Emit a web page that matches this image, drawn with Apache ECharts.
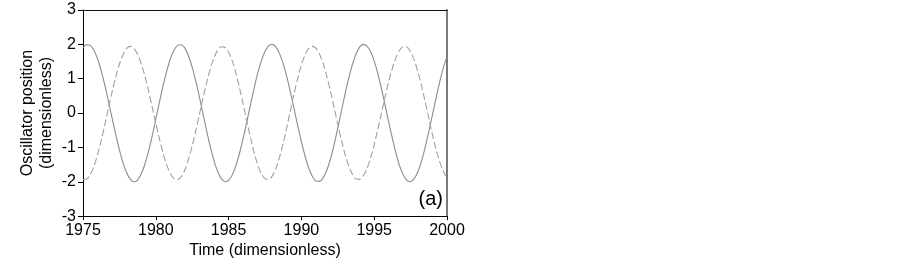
<!DOCTYPE html>
<html>
<head>
<meta charset="utf-8">
<script src="https://cdn.jsdelivr.net/npm/echarts@6/dist/echarts.min.js"></script>
<style>
html,body{margin:0;padding:0;background:#fff;}
#c{width:902px;height:264px;}
</style>
</head>
<body>
<div id="c"></div>
<script>
// Sampling grid of the time axis (dimensionless years)
const timeStart = 1975;
const timeStep = 0.25;
const xTicks = [1975, 1980, 1985, 1990, 1995, 2000];
const yTicks = [-3, -2, -1, 0, 1, 2, 3];

// Oscillator 1 (solid line)
const solidValues = [
  1.90, 1.99, 1.97, 1.83, 1.58, 1.23, 0.81, 0.34, -0.15, -0.63, -1.07, -1.45, -1.74, -1.93, -2.00, -1.95,
  -1.77, -1.49, -1.11, -0.67, -0.18, 0.32, 0.80, 1.22, 1.58, 1.83, 1.97, 1.99, 1.89, 1.66, 1.33, 0.92,
  0.46, -0.04, -0.53, -0.99, -1.39, -1.70, -1.91, -2.00, -1.96, -1.80, -1.53, -1.17, -0.74, -0.26, 0.24, 0.72,
  1.16, 1.52, 1.79, 1.96, 2.00, 1.92, 1.73, 1.43, 1.05, 0.60, 0.12, -0.37, -0.84, -1.25, -1.60, -1.84,
  -1.98, -1.99, -1.88, -1.66, -1.33, -0.91, -0.44, 0.06, 0.56, 1.02, 1.41, 1.72, 1.92, 2.00, 1.95, 1.79,
  1.51, 1.15, 0.71, 0.23, -0.27, -0.74, -1.18, -1.54, -1.80, -1.96, -2.00, -1.91, -1.71, -1.40, -1.00, -0.54,
  -0.05, 0.44, 0.91, 1.32, 1.65
];

// Oscillator 2 (dashed line)
const dashedValues = [
  -1.93, -1.92, -1.79, -1.55, -1.21, -0.80, -0.34, 0.15, 0.62, 1.05, 1.42, 1.70, 1.88, 1.94, 1.88, 1.71,
  1.43, 1.08, 0.65, 0.18, -0.30, -0.75, -1.17, -1.51, -1.76, -1.91, -1.94, -1.85, -1.65, -1.34, -0.95, -0.51,
  -0.03, 0.45, 0.90, 1.30, 1.61, 1.83, 1.93, 1.91, 1.77, 1.52, 1.16, 0.73, 0.26, -0.24, -0.71, -1.15,
  -1.50, -1.77, -1.91, -1.93, -1.83, -1.61, -1.28, -0.88, -0.41, 0.08, 0.57, 1.01, 1.40, 1.69, 1.88, 1.94,
  1.88, 1.71, 1.43, 1.06, 0.62, 0.15, -0.33, -0.79, -1.20, -1.54, -1.78, -1.92, -1.93, -1.83, -1.62, -1.31,
  -0.92, -0.47, 0.00, 0.47, 0.92, 1.31, 1.62, 1.83, 1.93, 1.92, 1.78, 1.54, 1.20, 0.79, 0.33, -0.15,
  -0.63, -1.06, -1.42, -1.70, -1.88
];

const xName = 'Time (dimensionless)';
const yName = 'Oscillator position\n(dimensionless)';
const panelLabel = '(a)';

function pairs(vals) {
  return vals.map((v, i) => [timeStart + i * timeStep, v]);
}

const FONT = '"Liberation Sans", Arial, sans-serif';
const chart = echarts.init(document.getElementById('c'), null, {renderer: 'canvas'});

chart.setOption({
  animation: false,
  backgroundColor: '#ffffff',
  grid: {left: 83, top: 10, right: 455, bottom: 44, containLabel: false},
  xAxis: [
    {
      type: 'value', gridIndex: 0, min: xTicks[0], max: xTicks[xTicks.length - 1], interval: 5,
      position: 'bottom',
      name: xName, nameLocation: 'middle', nameGap: 17,
      nameTextStyle: {fontFamily: FONT, fontSize: 16, color: '#000', verticalAlign: 'top'},
      axisLine: {show: true, onZero: false, lineStyle: {color: '#000', width: 1}},
      axisTick: {show: true, length: 4, inside: false, lineStyle: {color: '#000'}},
      axisLabel: {fontFamily: FONT, fontSize: 16, color: '#000', margin: 6, formatter: v => String(v)},
      splitLine: {show: false}
    },
    {
      type: 'value', gridIndex: 0, min: xTicks[0], max: xTicks[xTicks.length - 1], interval: 5,
      position: 'top',
      axisLine: {show: true, onZero: false, lineStyle: {color: '#111', width: 1}},
      axisTick: {show: false}, axisLabel: {show: false}, splitLine: {show: false}
    }
  ],
  yAxis: [
    {
      type: 'value', gridIndex: 0, min: yTicks[0], max: yTicks[yTicks.length - 1], interval: 1,
      position: 'left',
      name: yName, nameLocation: 'middle', nameGap: 27,
      nameTextStyle: {fontFamily: FONT, fontSize: 16, color: '#000', lineHeight: 19},
      axisLine: {show: true, onZero: false, lineStyle: {color: '#000', width: 1}},
      axisTick: {show: true, length: 5, inside: false, lineStyle: {color: '#000'}},
      axisLabel: {fontFamily: FONT, fontSize: 16, color: '#000', margin: 7, formatter: v => String(v)},
      splitLine: {show: false}
    },
    {
      type: 'value', gridIndex: 0, min: yTicks[0], max: yTicks[yTicks.length - 1], interval: 1,
      position: 'right',
      axisLine: {show: true, onZero: false, lineStyle: {color: '#7a7a7a', width: 2}},
      axisTick: {show: false}, axisLabel: {show: false}, splitLine: {show: false}
    }
  ],
  graphic: [
    {
      type: 'text', right: 902 - 443, top: 189,
      style: {text: panelLabel, font: '20px ' + FONT, fill: '#000'}
    }
  ],
  series: [
    {
      type: 'line', xAxisIndex: 0, yAxisIndex: 0, data: pairs(solidValues), showSymbol: false, smooth: 0.3,
      lineStyle: {color: '#8c8c8c', width: 1.1, type: 'solid'}
    },
    {
      type: 'line', xAxisIndex: 0, yAxisIndex: 0, data: pairs(dashedValues), showSymbol: false, smooth: 0.3,
      lineStyle: {color: '#a0a0a0', width: 1.1, type: [7, 3]}
    }
  ]
});
</script>
</body>
</html>
